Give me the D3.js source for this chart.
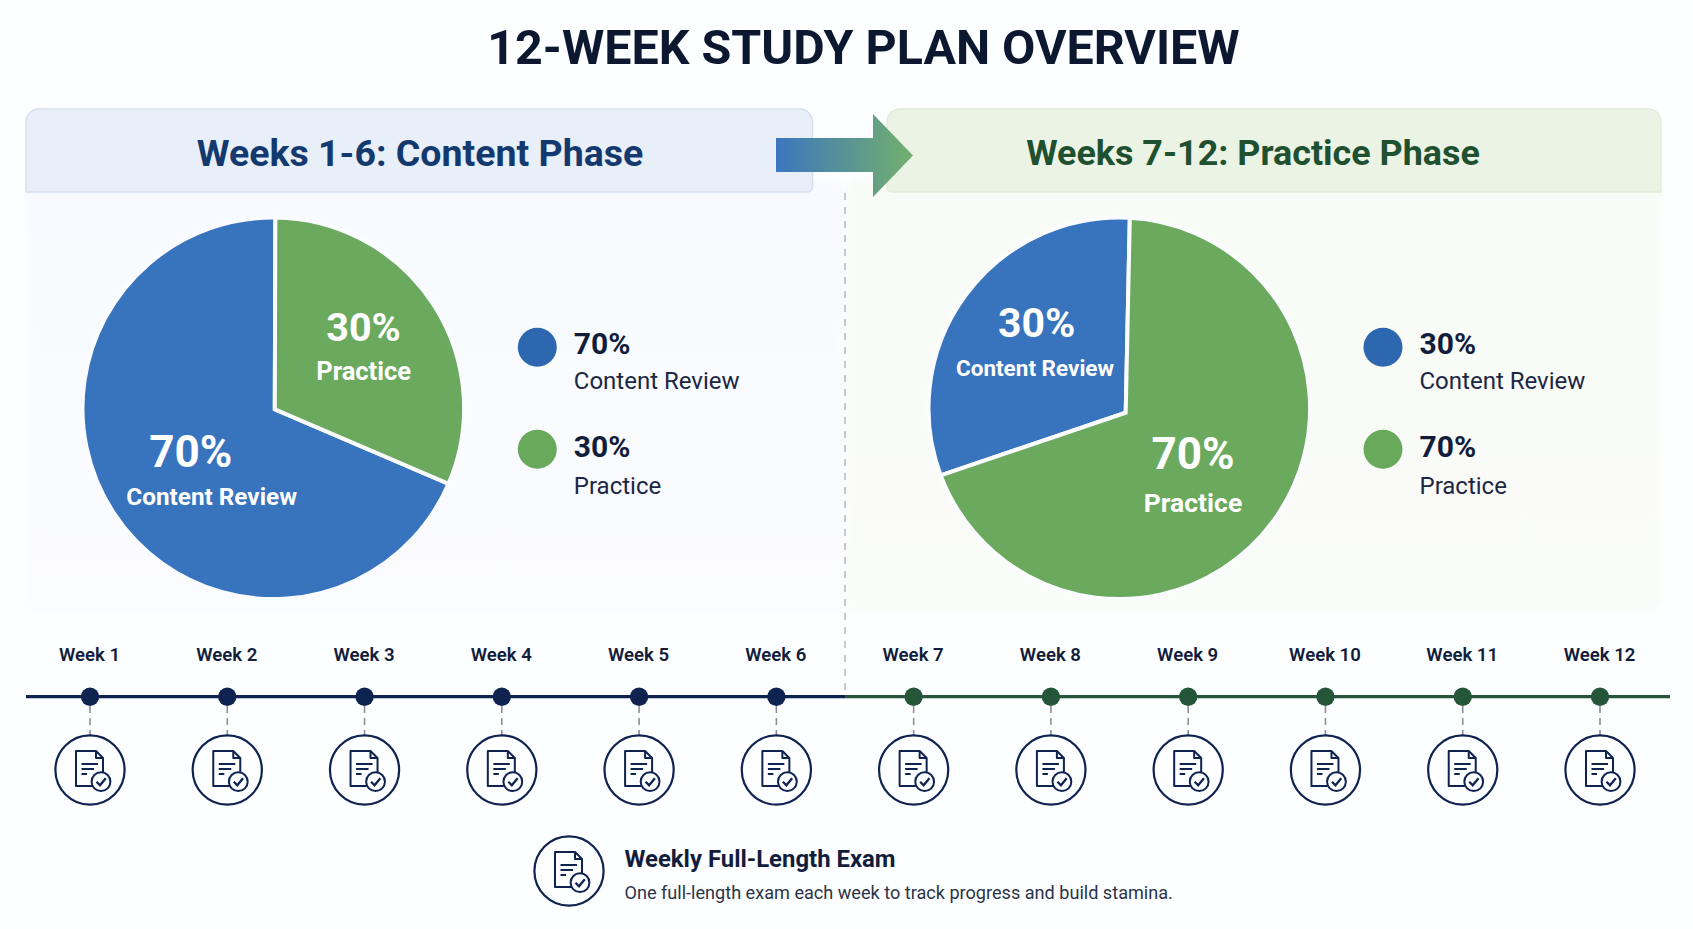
<!DOCTYPE html>
<html>
<head>
<meta charset="utf-8">
<script src="https://cdn.jsdelivr.net/npm/d3@7"></script>
<style>
  html, body { margin: 0; background: #fdfeff; overflow: hidden; }
  svg { display: block; }
  text { font-family: Roboto, sans-serif; }
</style>
</head>
<body>
<svg id="chart" width="1693" height="929"></svg>
<script>
const chartTitle = '12-WEEK STUDY PLAN OVERVIEW';
const weeks = ['Week 1', 'Week 2', 'Week 3', 'Week 4', 'Week 5', 'Week 6',
  'Week 7', 'Week 8', 'Week 9', 'Week 10', 'Week 11', 'Week 12'];
const phaseTitles = ['Weeks 1-6: Content Phase', 'Weeks 7-12: Practice Phase'];
const categories = ['Content Review', 'Practice'];
// what the picture prints
const contentPhaseLabels = [70, 30];
const practicePhaseLabels = [30, 70];
// slice sizes as measured on the picture, a little off the printed labels
const contentPhaseShares = [68.7, 31.3];
const practicePhaseShares = [31.6, 68.4];
const examTitle = 'Weekly Full-Length Exam';
const examText = 'One full-length exam each week to track progress and build stamina.';

const navy = '#0f2350';
const forest = '#25563a';
const pieColor = d3.scaleOrdinal().domain(categories).range(['#3874bd', '#6baa5e']);
const legendColor = d3.scaleOrdinal().domain(categories).range(['#2d67af', '#69a95c']);

const svg = d3.select('#chart');
const defs = svg.append('defs');

defs.append('filter').attr('id', 'soft')
  .attr('x', '-5%').attr('y', '-5%').attr('width', '110%').attr('height', '110%')
  .append('feGaussianBlur').attr('stdDeviation', 3);

let arrowGrad = defs.append('linearGradient').attr('id', 'arrow-grad');
arrowGrad.append('stop').attr('offset', '0%').attr('stop-color', '#3c76bf');
arrowGrad.append('stop').attr('offset', '100%').attr('stop-color', '#74b06c');

function addFade(id, top, bottom) {
  let g = defs.append('linearGradient').attr('id', id)
    .attr('x1', 0).attr('y1', 0).attr('x2', 0).attr('y2', 1);
  g.append('stop').attr('offset', '0%').attr('stop-color', top);
  g.append('stop').attr('offset', '100%').attr('stop-color', bottom);
}
addFade('fade-blue', '#f7fafe', '#fbfcfe');
addFade('fade-green', '#f8fbf6', '#fafcf9');

// panels
svg.append('rect').attr('x', 26).attr('y', 180).attr('width', 819).attr('height', 431)
  .attr('rx', 12).attr('fill', 'url(#fade-blue)').attr('filter', 'url(#soft)');
svg.append('rect').attr('x', 846).attr('y', 180).attr('width', 815).attr('height', 431)
  .attr('rx', 12).attr('fill', 'url(#fade-green)').attr('filter', 'url(#soft)');

// headers, r is the top corner radius, the bottom corner on the inner side is small
function headerPath(x0, x1, y0, y1, innerRight) {
  let p = d3.path(), r = 13, s = 5;
  if (innerRight) {
    p.moveTo(x0, y1);
  } else {
    p.moveTo(x0 + s, y1);
    p.arcTo(x0, y1, x0, y1 - s, s);
  }
  p.lineTo(x0, y0 + r);
  p.arcTo(x0, y0, x0 + r, y0, r);
  p.lineTo(x1 - r, y0);
  p.arcTo(x1, y0, x1, y0 + r, r);
  if (innerRight) {
    p.lineTo(x1, y1 - s);
    p.arcTo(x1, y1, x1 - s, y1, s);
  } else {
    p.lineTo(x1, y1);
  }
  p.closePath();
  return p.toString();
}
svg.append('path').attr('d', headerPath(26, 812.5, 109, 192, true))
  .attr('fill', '#e8eff9').attr('stroke', '#d5dff0').attr('stroke-width', 1.5);
svg.append('path').attr('d', headerPath(887, 1661, 109, 192, false))
  .attr('fill', '#ebf4e4').attr('stroke', '#e1ecd9').attr('stroke-width', 1.5);

// divider
svg.append('line').attr('x1', 845).attr('x2', 845).attr('y1', 193).attr('y2', 693)
  .attr('stroke', '#b9bcc0').attr('stroke-width', 1.6).attr('stroke-dasharray', '7 7');

// title + header text
svg.append('text').attr('x', 863.5).attr('y', 64).attr('text-anchor', 'middle')
  .attr('font-size', 48.4).attr('font-weight', 700).attr('fill', '#0c1730').text(chartTitle);
svg.append('text').attr('x', 420).attr('y', 165.5).attr('text-anchor', 'middle')
  .attr('font-size', 37.5).attr('font-weight', 700).attr('fill', '#14396f').text(phaseTitles[0]);
svg.append('text').attr('x', 1253).attr('y', 165).attr('text-anchor', 'middle')
  .attr('font-size', 35.9).attr('font-weight', 700).attr('fill', '#1f5030').text(phaseTitles[1]);

// phase arrow
svg.append('path')
  .attr('d', d3.line()([[776, 138], [873, 138], [873, 114], [913, 155.5], [873, 197], [873, 172], [776, 172]]) + 'Z')
  .attr('fill', 'url(#arrow-grad)');

// pies
function drawPie(cfg) {
  let r = 190.8;
  let g = svg.append('g').attr('transform', `translate(${cfg.cx},${cfg.cy})`);
  let slices = d3.pie().sort(null).startAngle(cfg.start).endAngle(cfg.start + 2 * Math.PI)
    .value((d) => d.share)(cfg.rows);

  // d3.arc has no way to move the apex off centre, the picture's apex sits off it
  let wedge = (d) => {
    let p = d3.path();
    p.moveTo(cfg.apex[0], cfg.apex[1]);
    p.arc(0, 0, r, d.startAngle - Math.PI / 2, d.endAngle - Math.PI / 2);
    p.closePath();
    return p.toString();
  };
  g.selectAll('path').data(slices).join('path')
    .attr('d', wedge)
    .attr('fill', (d) => pieColor(d.data.name))
    .attr('stroke', '#fbfcff').attr('stroke-width', 4).attr('stroke-linejoin', 'miter');

  cfg.labels.forEach((l) => {
    svg.append('text').attr('x', l.x).attr('y', l.y).attr('text-anchor', 'middle')
      .attr('font-size', l.size).attr('font-weight', 700).attr('fill', '#fff').text(l.text);
  });
}

const toRows = (shares) => categories.map((name, i) => ({ name, share: shares[i] }));
const rad = (deg) => (deg * Math.PI) / 180;

drawPie({
  cx: 273.3, cy: 408.3, apex: [1.5, 1], start: rad(113.3),
  rows: toRows(contentPhaseShares),
  labels: [
    { text: contentPhaseLabels[0] + '%', x: 190.7, y: 466.7, size: 44 },
    { text: categories[0], x: 211.7, y: 504.6, size: 24.3 },
    { text: contentPhaseLabels[1] + '%', x: 363.5, y: 340.7, size: 39.5 },
    { text: categories[1], x: 363.7, y: 380, size: 25.5 },
  ],
});
drawPie({
  cx: 1119.3, cy: 408.3, apex: [6.4, 4.4], start: rad(249.4),
  rows: toRows(practicePhaseShares),
  labels: [
    { text: practicePhaseLabels[0] + '%', x: 1036.7, y: 336.7, size: 41 },
    { text: categories[0], x: 1035, y: 375.7, size: 22.5 },
    { text: practicePhaseLabels[1] + '%', x: 1193, y: 469.3, size: 44 },
    { text: categories[1], x: 1193, y: 511.7, size: 26.5 },
  ],
});

// legends
function drawLegend(x, values) {
  let rowY = d3.scalePoint().domain(categories).range([347.3, 449.3]);
  let rows = svg.append('g').selectAll('g').data(categories).join('g')
    .attr('transform', (d) => `translate(${x},${rowY(d)})`);
  rows.append('circle').attr('r', 19.5).attr('fill', (d) => legendColor(d));
  rows.append('text').attr('x', 36.5).attr('y', (d, i) => (i ? 7.4 : 7))
    .attr('font-size', 30).attr('font-weight', 700).attr('fill', '#121d3c')
    .text((d, i) => values[i] + '%');
  rows.append('text').attr('x', 36.5).attr('y', (d, i) => (i ? 44.7 : 42))
    .attr('font-size', 24).attr('fill', '#1b2744').text((d) => d);
}
drawLegend(537.3, contentPhaseLabels);
drawLegend(1383, practicePhaseLabels);

// exam icon, drawn around the centre of its circle
function drawExamIcon(g) {
  g.append('circle').attr('r', 34.6).attr('fill', 'none').attr('stroke', navy).attr('stroke-width', 2.2);
  g.append('path')
    .attr('d', 'M13 -12 L6 -19 L-14 -19 L-14 16 L2 16')
    .attr('fill', 'none').attr('stroke', navy).attr('stroke-width', 2).attr('stroke-linejoin', 'round');
  g.append('path').attr('d', 'M6 -19 V-12 H13 V2')
    .attr('fill', 'none').attr('stroke', navy).attr('stroke-width', 2).attr('stroke-linejoin', 'round');
  g.append('path').attr('d', 'M-8.5 -6 H8 M-8.5 -1 H4 M-8.5 4 H-3')
    .attr('fill', 'none').attr('stroke', navy).attr('stroke-width', 1.8);
  g.append('circle').attr('cx', 11).attr('cy', 11.7).attr('r', 9.4)
    .attr('fill', '#fdfeff').attr('stroke', navy).attr('stroke-width', 2);
  g.append('path').attr('d', 'M6.5 11.8 L10 15.2 L15.8 8.3')
    .attr('fill', 'none').attr('stroke', navy).attr('stroke-width', 2.3);
}

// timeline
const weekX = d3.scalePoint().domain(weeks).range([90, 1600]);
const isContent = (w) => weeks.indexOf(w) < 6;

svg.append('line').attr('x1', 26).attr('x2', 845).attr('y1', 696.7).attr('y2', 696.7)
  .attr('stroke', navy).attr('stroke-width', 3.2);
svg.append('line').attr('x1', 845).attr('x2', 1670).attr('y1', 696.7).attr('y2', 696.7)
  .attr('stroke', forest).attr('stroke-width', 3.2);

const wk = svg.append('g').selectAll('g').data(weeks).join('g')
  .attr('transform', (d) => `translate(${weekX(d)},0)`);
wk.append('text').attr('x', -0.5).attr('y', 661).attr('text-anchor', 'middle')
  .attr('font-family', 'Inter, sans-serif')
  .attr('font-size', 18.6).attr('font-weight', 600).attr('fill', '#121d3c').text((d) => d);
wk.append('line').attr('y1', 706).attr('y2', 735)
  .attr('stroke', '#8d9096').attr('stroke-width', 1.6).attr('stroke-dasharray', '7 5');
wk.append('circle').attr('cy', 696.7).attr('r', 9.2).attr('fill', (d) => (isContent(d) ? navy : forest));
wk.append('g').attr('transform', 'translate(0,770)').each(function () {
  drawExamIcon(d3.select(this));
});

// footer note
drawExamIcon(svg.append('g').attr('transform', 'translate(569,871)'));
svg.append('text').attr('x', 624.5).attr('y', 867).attr('font-family', 'Inter, sans-serif')
  .attr('font-size', 23.9).attr('font-weight', 700).attr('fill', '#121d3c').text(examTitle);
svg.append('text').attr('x', 624.5).attr('y', 899.3).attr('font-family', 'Inter, sans-serif')
  .attr('font-size', 18.1).attr('fill', '#2a3448').text(examText);
</script>
</body>
</html>
